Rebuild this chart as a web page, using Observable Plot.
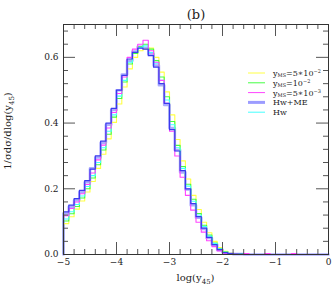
<!DOCTYPE html>
<html><head><meta charset="utf-8">
<script src="https://cdn.jsdelivr.net/npm/d3@7"></script>
<script src="https://cdn.jsdelivr.net/npm/@observablehq/plot@0.6"></script>
<style>
body{margin:0;background:#fff}
#chart{position:relative;width:332px;height:286px}
svg text{font-family:"DejaVu Serif",serif}
</style>
</head><body><div id="chart"></div>
<script>
// ---- data ----
const binStart = -5, binWidth = 0.1;
const xMajorTicks = [-5, -4, -3, -2, -1, 0];
const yMajorTicks = [0, 0.2, 0.4, 0.6];
const titleText = "(b)";

// y_MS = 5*10^-2 (yellow)
const yMS5e2 = [0.094,0.115,0.138,0.163,0.190,0.222,0.262,0.305,0.352,0.402,
 0.458,0.510,0.565,0.600,0.620,0.625,0.628,0.600,0.555,0.495,
 0.425,0.350,0.285,0.230,0.180,0.137,0.098,0.066,0.040,0.021,
 0.010,0.004,0.002,0.001,0,0,0,0,0,0, 0,0,0,0,0,0,0,0,0,0];
// y_MS = 10^-2 (green)
const yMS1e2 = [0.102,0.124,0.146,0.172,0.200,0.233,0.273,0.318,0.366,0.418,
 0.475,0.525,0.580,0.612,0.632,0.640,0.625,0.590,0.540,0.480,
 0.405,0.332,0.268,0.214,0.168,0.125,0.089,0.059,0.035,0.018,
 0.008,0.003,0.001,0.001,0,0,0,0,0,0, 0,0,0,0,0,0,0,0,0,0];
// y_MS = 5*10^-3 (magenta)
const yMS5e3 = [0.118,0.140,0.160,0.185,0.213,0.248,0.288,0.333,0.385,0.432,
 0.490,0.540,0.600,0.625,0.640,0.652,0.620,0.585,0.530,0.460,
 0.375,0.300,0.235,0.180,0.135,0.098,0.068,0.042,0.024,0.011,
 0.004,0.002,0.001,0,0.003,0,0,0,0.003,0, 0,0,0,0.003,0,0,0,0,0,0];
// Hw+ME (lavender, thick)
const hwME = [0.125,0.145,0.165,0.190,0.220,0.262,0.295,0.340,0.395,0.440,
 0.500,0.548,0.590,0.618,0.632,0.628,0.610,0.575,0.515,0.455,
 0.385,0.318,0.250,0.198,0.150,0.112,0.078,0.050,0.030,0.014,
 0.006,0.003,0.001,0.001,0,0,0,0,0,0, 0,0,0,0,0,0,0,0,0,0];
// Hw (cyan)
const hw = [0.108,0.130,0.152,0.178,0.207,0.240,0.280,0.325,0.375,0.425,
 0.482,0.530,0.585,0.615,0.630,0.635,0.615,0.582,0.530,0.470,
 0.395,0.325,0.262,0.208,0.162,0.120,0.085,0.056,0.033,0.017,
 0.007,0.003,0.001,0.001,0,0,0,0,0,0, 0,0,0,0,0,0,0,0,0,0];
// dark blue thin line (drawn over Hw+ME)
const hwMEline = [0.130,0.150,0.170,0.195,0.225,0.260,0.300,0.345,0.400,0.445,
 0.500,0.545,0.595,0.615,0.628,0.625,0.605,0.570,0.520,0.460,
 0.380,0.315,0.255,0.200,0.155,0.115,0.080,0.052,0.030,0.015,
 0.006,0.003,0.001,0.001,0,0,0,0,0,0, 0,0,0,0,0,0,0,0,0,0];

const legendLabels = [
  {base:"y", sub:"MS", mid:"=5∗10", sup:"−2"},
  {base:"y", sub:"MS", mid:"=10", sup:"−2"},
  {base:"y", sub:"MS", mid:"=5∗10", sup:"−3"},
  {base:"Hw+ME"},
  {base:"Hw"}
];
const legendColors = ["#ffff44", "#44ff44", "#ff44ff", "#9c9cff", "#44ffff"];
const legendWidths = [1, 1, 1, 3, 1];

// ---- build ----
const W = 332, H = 286;
const mT = 24, mB = 32, mL = 63, mR = 4;
const fW = W - mL - mR, fH = H - mT - mB;

function steps(vals) {
  const pts = [{x: binStart, y: 0}];
  vals.forEach((v, i) => pts.push({x: binStart + i * binWidth, y: v}));
  const end = binStart + vals.length * binWidth;
  pts.push({x: end, y: vals[vals.length - 1]});
  pts.push({x: end, y: 0});
  return pts;
}
const xMinor = d3.range(0, 26).map(i => +(binStart + i * 0.2).toFixed(2)).filter(v => !xMajorTicks.includes(v));
const yMinor = d3.range(0, 18).map(i => +(i * 0.04).toFixed(2)).filter(v => v <= 0.7 && !yMajorTicks.some(t => Math.abs(t - v) < 1e-9));

const tickColor = "#555";
const drawOrder = [
  [hwME, legendColors[3], 2.6, 0.85],
  [yMS5e2, legendColors[0], 1.1, 1],
  [yMS1e2, legendColors[1], 1.1, 1],
  [hw, legendColors[4], 1.1, 1],
  [yMS5e3, legendColors[2], 1.1, 1],
  [hwMEline, "#3a3aee", 1.2, 1]
];

const plot = Plot.plot({
  width: W, height: H,
  marginTop: mT, marginBottom: mB, marginLeft: mL, marginRight: mR,
  x: {domain: [-5, 0]},
  y: {domain: [0, 0.7]},
  style: {fontFamily: "DejaVu Serif", fontSize: "9px", color: "#222", background: "#fff"},
  marks: [
    ...drawOrder.map(([vals, c, w, o]) => Plot.line(steps(vals), {x: "x", y: "y", curve: "step-after", stroke: c, strokeWidth: w, strokeOpacity: o})),
    // inward ticks
    Plot.ruleX(xMajorTicks, {x: d => d, insetTop: fH - 12, stroke: tickColor}),
    Plot.ruleX(xMinor, {x: d => d, insetTop: fH - 5, stroke: tickColor}),
    Plot.ruleX(xMajorTicks, {x: d => d, insetBottom: fH - 12, stroke: tickColor}),
    Plot.ruleX(xMinor, {x: d => d, insetBottom: fH - 5, stroke: tickColor}),
    Plot.ruleY(yMajorTicks, {y: d => d, insetRight: fW - 12, stroke: tickColor}),
    Plot.ruleY(yMinor, {y: d => d, insetRight: fW - 5, stroke: tickColor}),
    Plot.ruleY(yMajorTicks, {y: d => d, insetLeft: fW - 12, stroke: tickColor}),
    Plot.ruleY(yMinor, {y: d => d, insetLeft: fW - 5, stroke: tickColor}),
    Plot.frame({stroke: "#333"}),
    Plot.axisX({ticks: xMajorTicks, tickSize: 0, tickPadding: 4, tickFormat: d3.format("d"), label: null}),
    Plot.axisY({ticks: yMajorTicks, tickSize: 0, tickPadding: 5, tickFormat: d3.format(".1f"), label: null}),
    Plot.text([titleText], {text: d => d, frameAnchor: "top", dy: -15, fontSize: 13})
  ]
});
document.getElementById("chart").appendChild(plot);

const svg = d3.select(plot);
const cx = mL + fW / 2;
// x label
const xl = svg.append("text").attr("x", cx).attr("y", H - 5).attr("text-anchor", "middle").attr("font-size", 10).attr("fill", "#222");
xl.append("tspan").text("log(y");
xl.append("tspan").attr("font-size", 7).attr("dy", 2.5).text("45");
xl.append("tspan").attr("dy", -2.5).text(")");
// y label
const yl = svg.append("text").attr("transform", `translate(11,${mT + fH / 2 - 8}) rotate(-90)`).attr("text-anchor", "middle").attr("font-size", 10).attr("fill", "#222");
yl.append("tspan").text("1/σdσ/dlog(y");
yl.append("tspan").attr("font-size", 7).attr("dy", 2.5).text("45");
yl.append("tspan").attr("dy", -2.5).text(")");
// legend
const lg = svg.append("g").attr("text-anchor", "start");
legendLabels.forEach((L, i) => {
  const y = 73 + i * 9.8;
  lg.append("line").attr("x1", 248).attr("x2", 265).attr("y1", y).attr("y2", y)
    .attr("stroke", legendColors[i]).attr("stroke-width", legendWidths[i]);
  const t = lg.append("text").attr("x", 273).attr("y", y + 3).attr("font-size", 8)
    .attr("text-anchor", "start").attr("fill", "#222");
  t.append("tspan").text(L.base);
  if (L.sub) {
    t.append("tspan").attr("font-size", 5).attr("dy", 1.3).text(L.sub);
    t.append("tspan").attr("dy", -1.3).text(L.mid);
    t.append("tspan").attr("font-size", 5).attr("dy", -3).text(L.sup);
  }
});
</script>
</body></html>
